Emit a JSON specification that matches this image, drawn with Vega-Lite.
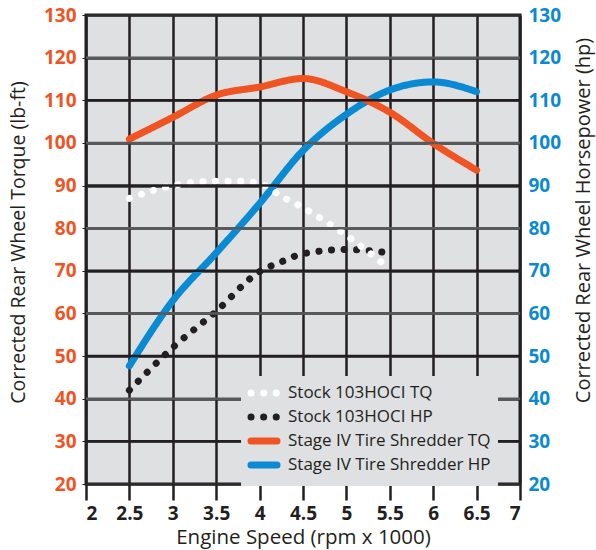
{
  "$schema": "https://vega.github.io/schema/vega-lite/v6.json",
  "width": 434,
  "height": 469,
  "autosize": {"type": "none"},
  "padding": {"left": 86, "top": 15, "right": 76, "bottom": 66},
  "background": "white",
  "config": {
    "font": "Open Sans",
    "view": {"fill": "#dfe0e2", "stroke": "#231f20", "strokeWidth": 3},
    "axis": {"domain": false}
  },
  "datasets": {
    "curves": [
      {"series": "Stock 103HOCI TQ", "rpm": 2.5, "value": 87},
      {"series": "Stock 103HOCI TQ", "rpm": 3, "value": 90},
      {"series": "Stock 103HOCI TQ", "rpm": 3.5, "value": 91},
      {"series": "Stock 103HOCI TQ", "rpm": 3.75, "value": 91},
      {"series": "Stock 103HOCI TQ", "rpm": 4, "value": 90.5},
      {"series": "Stock 103HOCI TQ", "rpm": 4.25, "value": 87.5},
      {"series": "Stock 103HOCI TQ", "rpm": 4.5, "value": 84.8},
      {"series": "Stock 103HOCI TQ", "rpm": 5, "value": 78.3},
      {"series": "Stock 103HOCI TQ", "rpm": 5.5, "value": 70.4},
      {"series": "Stock 103HOCI HP", "rpm": 2.5, "value": 42},
      {"series": "Stock 103HOCI HP", "rpm": 3, "value": 52},
      {"series": "Stock 103HOCI HP", "rpm": 3.5, "value": 60.5},
      {"series": "Stock 103HOCI HP", "rpm": 4, "value": 69.8},
      {"series": "Stock 103HOCI HP", "rpm": 4.25, "value": 72.1},
      {"series": "Stock 103HOCI HP", "rpm": 4.5, "value": 74},
      {"series": "Stock 103HOCI HP", "rpm": 5, "value": 75},
      {"series": "Stock 103HOCI HP", "rpm": 5.45, "value": 74.3},
      {"series": "Stage IV Tire Shredder TQ", "rpm": 2.5, "value": 100.9},
      {"series": "Stage IV Tire Shredder TQ", "rpm": 3, "value": 106},
      {"series": "Stage IV Tire Shredder TQ", "rpm": 3.5, "value": 111.2},
      {"series": "Stage IV Tire Shredder TQ", "rpm": 4, "value": 113.1},
      {"series": "Stage IV Tire Shredder TQ", "rpm": 4.5, "value": 115.1},
      {"series": "Stage IV Tire Shredder TQ", "rpm": 5, "value": 112},
      {"series": "Stage IV Tire Shredder TQ", "rpm": 5.5, "value": 107.2},
      {"series": "Stage IV Tire Shredder TQ", "rpm": 6, "value": 99.9},
      {"series": "Stage IV Tire Shredder TQ", "rpm": 6.5, "value": 93.6},
      {"series": "Stage IV Tire Shredder HP", "rpm": 2.5, "value": 47.7},
      {"series": "Stage IV Tire Shredder HP", "rpm": 3, "value": 63},
      {"series": "Stage IV Tire Shredder HP", "rpm": 3.5, "value": 74.2},
      {"series": "Stage IV Tire Shredder HP", "rpm": 4, "value": 85.8},
      {"series": "Stage IV Tire Shredder HP", "rpm": 4.5, "value": 98.2},
      {"series": "Stage IV Tire Shredder HP", "rpm": 5, "value": 106.7},
      {"series": "Stage IV Tire Shredder HP", "rpm": 5.5, "value": 112.4},
      {"series": "Stage IV Tire Shredder HP", "rpm": 6, "value": 114.3},
      {"series": "Stage IV Tire Shredder HP", "rpm": 6.5, "value": 112}
    ],
    "gridlines": [
      {"level": 30}, {"level": 40}, {"level": 50}, {"level": 60}, {"level": 70},
      {"level": 80}, {"level": 90}, {"level": 100}, {"level": 110}, {"level": 120}
    ]
  },
  "layer": [
    {
      "data": {"name": "curves"},
      "transform": [{"filter": "indexof(datum.series, 'HP') >= 0"}],
      "mark": {"type": "line", "strokeCap": "round", "interpolate": "monotone", "strokeWidth": 7},
      "encoding": {
        "x": {
          "field": "rpm",
          "type": "quantitative",
          "scale": {"domain": [2, 7], "nice": false, "zero": false},
          "axis": {
            "values": [2, 2.5, 3, 3.5, 4, 4.5, 5, 5.5, 6, 6.5, 7],
            "format": "~g",
            "labelFontSize": 19,
            "labelFontWeight": "bold",
            "labelColor": "#231f20",
            "labelPadding": 4,
            "tickSize": 16,
            "tickWidth": 2.5,
            "tickColor": "#231f20",
            "gridColor": "#231f20",
            "gridWidth": 2.5,
            "gridOpacity": 1,
            "title": "Engine Speed (rpm x 1000)",
            "titleFontSize": 20.5,
            "titleFontWeight": "normal",
            "titleColor": "#231f20",
            "titlePadding": 4
          }
        },
        "y": {
          "field": "value",
          "type": "quantitative",
          "scale": {"domain": [20, 130], "nice": false, "zero": false},
          "axis": {
            "orient": "left",
            "values": [20, 30, 40, 50, 60, 70, 80, 90, 100, 110, 120, 130],
            "grid": true,
            "gridColor": "#2e2e30",
            "gridWidth": 2.5,
            "gridOpacity": 1,
            "tickSize": 4,
            "tickColor": "#231f20",
            "labelColor": "#f05423",
            "labelFontSize": 19,
            "labelFontWeight": "bold",
            "labelPadding": 6,
            "title": "Corrected Rear Wheel Torque (lb-ft)",
            "titleFontSize": 19.5,
            "titleFontWeight": "normal",
            "titleColor": "#231f20",
            "titlePadding": 15,
            "titleY": 227
          }
        },
        "color": {
          "field": "series",
          "type": "nominal",
          "scale": {
            "domain": ["Stock 103HOCI TQ", "Stock 103HOCI HP", "Stage IV Tire Shredder TQ", "Stage IV Tire Shredder HP"],
            "range": ["#ffffff", "#231f20", "#f05423", "#0a8ad2"]
          },
          "legend": {
            "title": null,
            "orient": "none",
            "legendX": 155,
            "legendY": 361,
            "padding": 7,
            "fillColor": "#dfe0e2",
            "symbolType": "M-2,0H2",
            "symbolSize": 169,
            "symbolOffset": 6,
            "symbolStrokeWidth": 7,
            "labelFontSize": 17,
            "labelColor": "#231f20",
            "labelOffset": 14,
            "labelLimit": 400,
            "rowPadding": -13,
            "zindex": 2,
            "encode": {"symbols": {"update": {"strokeCap": {"value": "round"}, "fill": {"value": "transparent"}}}}
          }
        },
        "strokeDash": {
          "field": "series",
          "type": "nominal",
          "scale": {
            "domain": ["Stock 103HOCI TQ", "Stock 103HOCI HP", "Stage IV Tire Shredder TQ", "Stage IV Tire Shredder HP"],
            "range": [[0.1, 12.5], [0.1, 12.5], [1, 0], [1, 0]]
          },
          "legend": {
            "title": null,
            "orient": "none",
            "legendX": 155,
            "legendY": 361,
            "padding": 7,
            "fillColor": "#dfe0e2",
            "symbolType": "M-2,0H2",
            "symbolSize": 169,
            "symbolOffset": 6,
            "symbolStrokeWidth": 7,
            "labelFontSize": 17,
            "labelColor": "#231f20",
            "labelOffset": 14,
            "labelLimit": 400,
            "rowPadding": -13,
            "zindex": 2,
            "encode": {"symbols": {"update": {"strokeCap": {"value": "round"}, "fill": {"value": "transparent"}}}}
          }
        }
      }
    },
    {
      "data": {"name": "curves"},
      "transform": [{"filter": "indexof(datum.series, 'TQ') >= 0"}],
      "mark": {"type": "line", "strokeCap": "round", "interpolate": "monotone", "strokeWidth": 7},
      "encoding": {
        "x": {
          "field": "rpm",
          "type": "quantitative",
          "scale": {"domain": [2, 7], "nice": false, "zero": false}
        },
        "y": {
          "field": "value",
          "type": "quantitative",
          "scale": {"domain": [20, 130], "nice": false, "zero": false},
          "axis": {
            "orient": "right",
            "values": [20, 30, 40, 50, 60, 70, 80, 90, 100, 110, 120, 130],
            "grid": false,
            "ticks": false,
            "labelColor": "#0a8ad2",
            "labelFontSize": 19,
            "labelFontWeight": "bold",
            "labelPadding": 8,
            "title": "Corrected Rear Wheel Horsepower (hp)",
            "titleAngle": 270,
            "titleFontSize": 20,
            "titleFontWeight": "normal",
            "titleColor": "#231f20",
            "titlePadding": 33,
            "titleY": 205
          }
        },
        "color": {"field": "series", "type": "nominal"},
        "strokeDash": {"field": "series", "type": "nominal"}
      }
    },
    {
      "data": {"name": "gridlines"},
      "mark": {"type": "tick", "orient": "horizontal", "thickness": 2.5, "size": 434, "opacity": 1},
      "encoding": {
        "y": {
          "field": "level",
          "type": "quantitative",
          "scale": {"domain": [20, 130], "nice": false, "zero": false},
          "axis": null
        },
        "color": {
          "condition": {"test": "datum.level % 20 === 0", "value": "#58595b"},
          "value": "#231f20"
        }
      }
    }
  ],
  "resolve": {"scale": {"y": "independent"}}
}
